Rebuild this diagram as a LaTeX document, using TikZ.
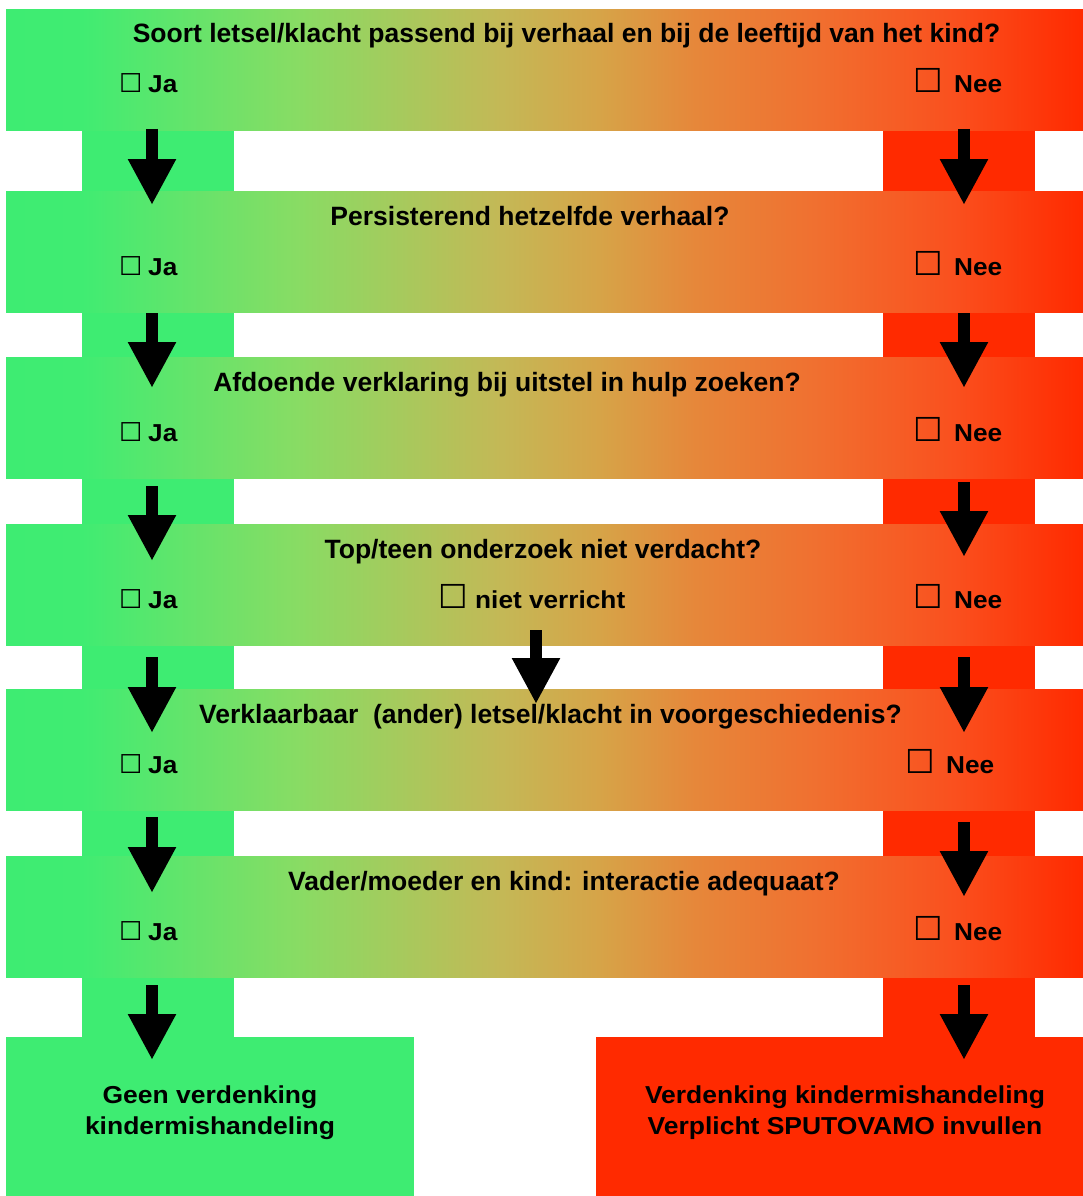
\documentclass[tikz,border=0pt]{standalone}
\usepackage{fontspec}
\usepackage{graphicx}
\setmainfont{Liberation Sans}
\newfontfamily\boxfont{DejaVu Sans}
\usetikzlibrary{arrows.meta}
\definecolor{cG}{RGB}{62,236,114}
\definecolor{cG2}{RGB}{64,236,114}
\definecolor{cL}{RGB}{136,220,100}
\definecolor{cY}{RGB}{196,184,86}
\definecolor{cT}{RGB}{214,164,72}
\definecolor{cO}{RGB}{230,135,58}
\definecolor{cO2}{RGB}{240,112,48}
\definecolor{cO3}{RGB}{250,80,30}
\definecolor{cR}{RGB}{255,42,0}
\pgfdeclarehorizontalshading{bandshade}{100bp}{color(0bp)=(cG); color(25bp)=(cG); color(28.5bp)=(cG2); color(38.5bp)=(cL); color(48bp)=(cY); color(52.5bp)=(cT); color(57bp)=(cO); color(62.5bp)=(cO2); color(69bp)=(cO3); color(75bp)=(cR); color(100bp)=(cR)}
\tikzset{
  band/.style={anchor=north west, inner sep=0pt, minimum width=1077pt, minimum height=121pt, shade, shading=bandshade},
  title/.style={anchor=base, inner sep=0pt, font=\fontsize{26.5}{30}\selectfont\bfseries},
  choice/.style={anchor=base west, inner sep=0pt, font=\fontsize{24.5}{28}\selectfont\bfseries},
  cboxs/.style={anchor=base west, inner sep=0pt, font=\boxfont\fontsize{26}{28}\selectfont},
  cboxl/.style={anchor=base west, inner sep=0pt, font=\boxfont\fontsize{33}{36}\selectfont},
  conn/.style={line width=12pt, -{Triangle[width=45pt,length=46pt]}},
  result/.style={anchor=north west, inner sep=0pt, minimum height=159pt},
  restext/.style={align=center, inner sep=0pt, font=\fontsize{24.5}{31}\selectfont\bfseries}
}
\newcommand{\wide}[1]{\scalebox{1.07}[1]{#1}}
\newcommand{\widr}[1]{\scalebox{1.08}[1]{#1}}
\begin{document}
\begin{tikzpicture}[x=1pt,y=-1pt]
\useasboundingbox (0,0) rectangle (1083,1196);
% connector strips
\foreach \a/\b in {130/191,312/357,478/524,645/689,811/856,977/1037}{
  \fill[cG] (82,\a) rectangle (234,\b);
  \fill[cR] (883,\a) rectangle (1035,\b);
}
% bands
\node[band] (b1) at (6,9) {};
\node[band] (b2) at (6,191) {};
\node[band] (b3) at (6,357) {};
\node[band] (b4) at (6,524) {};
\node[band] (b5) at (6,689) {};
\node[band] (b6) at (6,856) {};
% results
\node[result, fill=cG, minimum width=408pt] (rg) at (6,1037) {};
\node[result, fill=cR, minimum width=487pt] (rr) at (596,1037) {};
% titles
\node[title] (t1) at (566.5,43) {Soort letsel/klacht passend bij verhaal en bij de leeftijd van het kind?};
\node[title] (t2) at (530,225.5) {Persisterend hetzelfde verhaal?};
\node[title] (t3) at (507,391.5) {Afdoende verklaring bij uitstel in hulp zoeken?};
\node[title] (t4) at (543,558.5) {Top/teen onderzoek niet verdacht?};
\node[title] (t5) at (550.5,723.5) {Verklaarbaar\ \ (ander) letsel/klacht in voorgeschiedenis?};
\node[title] (t6) at (564,890.5) {Vader/moeder en kind: interactie adequaat?};
% choices
\foreach \n/\T in {1/9,2/191,3/357,4/524,5/689,6/856}{
  \node[cboxs] (jb\n) at (119,\T+84) {☐};
  \node[choice] (ja\n) at (148,\T+84) {\wide{Ja}};
}
\foreach \n/\T in {1/9,2/191,3/357,4/524,6/856}{
  \node[cboxl] (nb\n) at (913,\T+84) {☐};
  \node[choice] (ne\n) at (954,\T+84) {\wide{Nee}};
}
\node[cboxl] (nb5) at (905,689+84) {☐};
\node[choice] (ne5) at (946,689+84) {\wide{Nee}};
\node[cboxl] (vb4) at (438,524+84) {☐};
\node[choice] (vr4) at (475,524+84) {\wide{niet verricht}};
% result texts
\node[restext] (rgt) at (210,1113) {\widr{Geen verdenking}\\\widr{kindermishandeling}};
\node[restext] (rrt) at (845,1113) {\widr{Verdenking kindermishandeling}\\\widr{Verplicht SPUTOVAMO invullen}};
% arrows
\coordinate (l1s) at (152,129); \coordinate (l1e) at (152,205);
\coordinate (r1s) at (964,129); \coordinate (r1e) at (964,205);
\coordinate (l2s) at (152,313); \coordinate (l2e) at (152,388);
\coordinate (r2s) at (964,313); \coordinate (r2e) at (964,388);
\coordinate (l3s) at (152,486); \coordinate (l3e) at (152,561);
\coordinate (r3s) at (964,482); \coordinate (r3e) at (964,557);
\coordinate (l4s) at (152,657); \coordinate (l4e) at (152,733);
\coordinate (r4s) at (964,657); \coordinate (r4e) at (964,733);
\coordinate (m4s) at (536,630); \coordinate (m4e) at (536,704);
\coordinate (l5s) at (152,817); \coordinate (l5e) at (152,893);
\coordinate (r5s) at (964,822); \coordinate (r5e) at (964,897);
\coordinate (l6s) at (152,985); \coordinate (l6e) at (152,1060);
\coordinate (r6s) at (964,985); \coordinate (r6e) at (964,1060);
\foreach \p in {l1,r1,l2,r2,l3,r3,l4,r4,m4,l5,r5,l6,r6}{
  \draw[conn] (\p s) -- (\p e);
}
\end{tikzpicture}
\end{document}
